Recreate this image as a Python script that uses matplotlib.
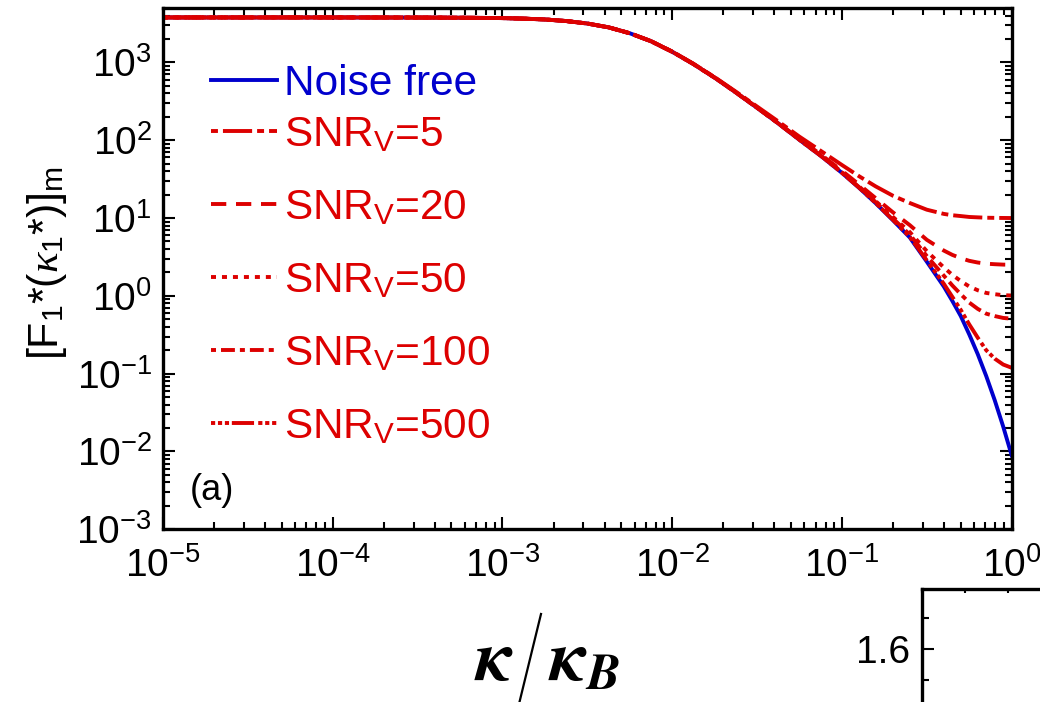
import numpy as np
import matplotlib
matplotlib.use('Agg')
import matplotlib.pyplot as plt
from matplotlib.lines import Line2D
from matplotlib.ticker import LogLocator, MultipleLocator, NullFormatter, FormatStrFormatter

plt.rcParams['font.family'] = ['Liberation Sans', 'DejaVu Sans']
plt.rcParams['mathtext.fontset'] = 'custom'
plt.rcParams['mathtext.rm'] = 'Liberation Sans'
plt.rcParams['mathtext.it'] = 'Liberation Serif:italic'
plt.rcParams['mathtext.bf'] = 'Liberation Sans:bold'
plt.rcParams['lines.scale_dashes'] = False
plt.rcParams['axes.unicode_minus'] = False

# kappa / kappa_B
k = [1e-5, 1e-4, 3.16e-4, 5.62e-4, 1e-3, 1.33e-3, 1.78e-3, 2.37e-3, 3.16e-3,
     4.22e-3, 5.62e-3, 7.5e-3, 1e-2, 1.33e-2, 1.78e-2, 2.37e-2, 3.16e-2,
     4.22e-2, 5.62e-2, 7.5e-2, 0.1, 0.126, 0.158, 0.2, 0.251, 0.316, 0.398,
     0.447, 0.501, 0.562, 0.631, 0.708, 0.794, 0.891, 1.0]
noise_free = [3780, 3780, 3770, 3750, 3710, 3650, 3560, 3400, 3160,
              2820, 2370, 1870, 1370, 955, 635, 411, 261,
              164, 101, 63, 38.0, 24.5, 15.5, 9.33, 5.62, 2.75, 1.32,
              0.86, 0.55, 0.32, 0.178, 0.093, 0.0457, 0.0209, 0.0089]
snr5 = [3780, 3780, 3770, 3750, 3710, 3650, 3560, 3400, 3160,
        2820, 2370, 1880, 1380, 965, 645, 421, 271,
        174, 111, 73, 48.0, 34.5, 25.5, 19.3, 15.6, 12.8, 11.3,
        10.86, 10.6, 10.32, 10.2, 10.09, 10.05, 10.02, 10.0]
snr20 = [3780, 3780, 3770, 3750, 3710, 3650, 3560, 3400, 3160,
         2820, 2370, 1870, 1370, 957, 638, 413, 264,
         166, 104, 65.5, 40.5, 27.0, 18.0, 11.8, 8.1, 5.25, 3.82,
         3.36, 3.05, 2.82, 2.68, 2.59, 2.55, 2.52, 2.51]
snr50 = [3780, 3780, 3770, 3750, 3710, 3650, 3560, 3400, 3160,
         2820, 2370, 1870, 1370, 956, 636, 412, 262,
         165, 102, 64, 39.0, 25.5, 16.5, 10.3, 6.6, 3.75, 2.32,
         1.86, 1.55, 1.32, 1.18, 1.09, 1.05, 1.02, 1.01]
snr100 = [3780, 3780, 3770, 3750, 3710, 3650, 3560, 3400, 3160,
          2820, 2370, 1870, 1370, 955, 635, 411, 261,
          164.5, 101.5, 63.5, 38.5, 25.0, 16.0, 9.83, 6.12, 3.25, 1.82,
          1.36, 1.05, 0.82, 0.68, 0.59, 0.55, 0.52, 0.51]
snr500 = [3780, 3780, 3770, 3750, 3710, 3650, 3560, 3400, 3160,
          2820, 2370, 1870, 1370, 955, 635, 411, 261,
          164, 101, 63.1, 38.1, 24.6, 15.6, 9.44, 5.73, 2.86, 1.43,
          0.97, 0.66, 0.43, 0.29, 0.20, 0.156, 0.131, 0.119]

labels = [r'SNR$_\mathrm{V}$=5', r'SNR$_\mathrm{V}$=20', r'SNR$_\mathrm{V}$=50',
          r'SNR$_\mathrm{V}$=100', r'SNR$_\mathrm{V}$=500']
dash_styles = [(0, (5, 3.6, 21, 3.6)),
               (0, (11, 7)),
               (0, (3.6, 4.3)),
               (0, (3.6, 3.6, 10, 3.6)),
               (0, (3, 2, 3, 2, 3, 2, 16, 3))]

blue = '#0000CD'
red = '#DD0000'

fig = plt.figure(figsize=(10.4, 7.02), dpi=100)
ax = fig.add_axes([163 / 1040, 172.7 / 702, 848.7 / 1040, 521.3 / 702])

h_free, = ax.plot(k, noise_free, color=blue, lw=2.8, label='Noise free')
h_snr = []
for ys, lab, ls in zip([snr5, snr20, snr50, snr100, snr500], labels, dash_styles):
    h, = ax.plot(k, ys, color=red, lw=2.8, linestyle=ls, label=lab)
    h_snr.append(h)

ax.set_xscale('log')
ax.set_yscale('log')
ax.set_xlim(1e-5, 1e0)
ax.set_ylim(1e-3, 5e3)

for axis in (ax.xaxis, ax.yaxis):
    axis.set_major_locator(LogLocator(base=10, numticks=100))
    axis.set_minor_locator(LogLocator(base=10, subs=np.arange(2, 10), numticks=100))
    axis.set_minor_formatter(NullFormatter())

ax.tick_params(which='both', direction='in', top=True, right=True, width=1.5,
               labelsize=28)
ax.tick_params(which='major', length=8.5)
ax.tick_params(which='minor', length=5)
ax.tick_params(axis='x', pad=13)
ax.tick_params(axis='y', pad=8)
for s in ax.spines.values():
    s.set_linewidth(2.4)

leg_kw = dict(loc='upper left', frameon=False, fontsize=30.5, handlelength=1.55,
              handletextpad=0.17, borderaxespad=0, borderpad=0,
              labelcolor='linecolor')
leg1 = ax.legend(handles=[h_free], bbox_to_anchor=(0.057, 0.892), **leg_kw)
ax.add_artist(leg1)
ax.legend(handles=h_snr, bbox_to_anchor=(0.057, 0.795), labelspacing=0.78, **leg_kw)

ax.text(0.032, 0.075, '(a)', transform=ax.transAxes, fontsize=26,
        va='center', ha='left')

fig.text(0.045, 0.625, r'[F$_\mathrm{1}$*($\kappa_\mathrm{1}$*)]$_\mathrm{m}$',
         rotation=90, fontsize=31, ha='center', va='center')

# x label: kappa / kappa_B with a tall slash
fig.text(514 / 1040, (702 - 680) / 702, r'$\mathbfit{\kappa}$',
         math_fontfamily='stix', fontsize=52, ha='right', va='baseline')
fig.text(548 / 1040, (702 - 680) / 702, r'$\mathbfit{\kappa}_{\mathbfit{B}}$',
         math_fontfamily='stix', fontsize=52, ha='left', va='baseline')
fig.add_artist(Line2D([541 / 1040, 519 / 1040], [(702 - 614) / 702, (702 - 704) / 702],
                      transform=fig.transFigure, color='black', lw=1.6))

# neighbouring panel, cut off at the figure edge
ax2 = fig.add_axes([921.7 / 1040, 0, 400 / 1040, 112.7 / 702])
ax2.set_facecolor('none')
ax2.set_xlim(0, 400 / 43.15)
ax2.set_ylim(1.79 - 112.7 / 314, 1.79)
ax2.xaxis.set_major_locator(MultipleLocator(2))
ax2.xaxis.set_minor_locator(MultipleLocator(1))
ax2.yaxis.set_major_locator(MultipleLocator(0.2))
ax2.yaxis.set_minor_locator(MultipleLocator(0.1))
ax2.yaxis.set_major_formatter(FormatStrFormatter('%.1f'))
ax2.tick_params(which='both', direction='in', top=True, bottom=False, right=False,
                labelbottom=False, width=1.5, labelsize=28, pad=8)
ax2.tick_params(axis='y', which='major', length=8.5)
ax2.tick_params(axis='y', which='minor', length=5)
ax2.tick_params(axis='x', which='both', length=3)
ax2.spines['bottom'].set_visible(False)
ax2.spines['right'].set_visible(False)
for s in ax2.spines.values():
    s.set_linewidth(2.4)

fig.savefig('out.png', dpi=100)
